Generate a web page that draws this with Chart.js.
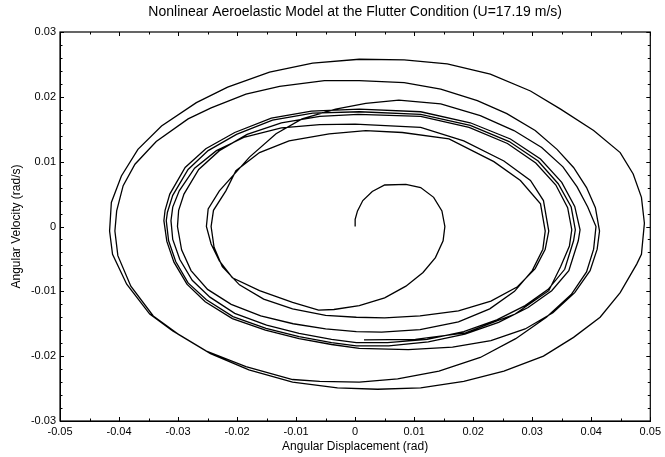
<!DOCTYPE html>
<html>
<head>
<meta charset="utf-8">
<script src="https://cdn.jsdelivr.net/npm/chart.js@4.4.1/dist/chart.umd.min.js"></script>
<style>
  html, body { margin: 0; padding: 0; background: #fff; }
  #wrap { width: 665px; height: 457px; }
</style>
</head>
<body>
<div id="wrap"><canvas id="c" width="665" height="457"></canvas></div>
<script>
// ---- data (angular displacement [rad], angular velocity [rad/s]) ----
const turn0 = [
  [0,0],[0,0.0011],[0.0004,0.0024],[0.0013,0.0040],[0.0029,0.0054],[0.0050,0.0064],[0.0086,0.0065],[0.0111,0.0060],[0.0133,0.0045],[0.0147,0.0024],[0.0152,0],
  [0.0149,-0.0022],[0.0136,-0.0048],[0.0115,-0.0071],[0.0086,-0.0092],[0.0050,-0.0110],[0.0007,-0.0122],[-0.0036,-0.0128],[-0.0062,-0.0129],
  [-0.0106,-0.0117],[-0.0162,-0.0099],[-0.0208,-0.0079],[-0.0230,-0.0053],[-0.0244,-0.0027],[-0.0252,0],[-0.0249,0.0027],
  [-0.0230,0.0055],[-0.0179,0.0107],[-0.0134,0.0143],[-0.0090,0.0166],[-0.0033,0.0181],[0.0018,0.0190],[0.0074,0.0195]
];
const turn1 = [
  [0.0145,0.0189],[0.0212,0.0171],[0.0269,0.0148],[0.0316,0.0122],[0.0352,0.0092],[0.0376,0.0061],[0.0394,0.0030],[0.0408,0.0000],
  [0.0404,-0.0035],[0.0392,-0.0070],[0.0366,-0.0105],[0.0324,-0.0140],[0.0272,-0.0173],[0.0212,-0.0202],[0.0142,-0.0223],[0.0072,-0.0235],[0.0007,-0.0240],
  [-0.0060,-0.0239],[-0.0106,-0.0236],[-0.0185,-0.0216],[-0.0252,-0.0192],[-0.0309,-0.0161],[-0.0348,-0.0135],[-0.0387,-0.0089],[-0.0411,-0.0043],[-0.0416,-0.0007],
  [-0.0413,0.0037],[-0.0396,0.0078],[-0.0368,0.0119],[-0.0328,0.0155],[-0.0269,0.0191],[-0.0216,0.0215],[-0.0145,0.0238],[-0.0072,0.0252],[0.0007,0.0258]
];
const turn2 = [
  [0.0083,0.0257],[0.0156,0.0251],[0.0229,0.0235],[0.0297,0.0209],[0.0348,0.0181],[0.0404,0.0148],[0.0449,0.0114],[0.0471,0.0081],[0.0485,0.0045],[0.0490,0.0005],
  [0.0485,-0.0043],[0.0477,-0.0058],[0.0449,-0.0102],[0.0415,-0.0140],[0.0370,-0.0171],[0.0319,-0.0200],[0.0252,-0.0223],[0.0184,-0.0239],[0.0111,-0.0249],[0.0038,-0.0251],
  [-0.0030,-0.0249],[-0.0106,-0.0240],[-0.0180,-0.0221],[-0.0245,-0.0196],[-0.0300,-0.0166],[-0.0342,-0.0138],[-0.0380,-0.0092],[-0.0402,-0.0045],[-0.0407,-0.0007],
  [-0.0404,0.0024],[-0.0393,0.0063],[-0.0373,0.0096],[-0.0337,0.0131],[-0.0283,0.0166],[-0.0244,0.0183],[-0.0185,0.0204],[-0.0128,0.0216],[-0.0052,0.0225],[0.0007,0.0225]
];
const turn3 = [
  [0.0083,0.0222],[0.0145,0.0212],[0.0207,0.0194],[0.0257,0.0174],[0.0305,0.0148],[0.0342,0.0119],[0.0370,0.0091],[0.0392,0.0060],[0.0407,0.0029],[0.0414,-0.0007],
  [0.0410,-0.0035],[0.0398,-0.0068],[0.0372,-0.0102],[0.0335,-0.0133],[0.0288,-0.0158],[0.0230,-0.0176],[0.0165,-0.0186],[0.0090,-0.0190],[0.0007,-0.0188],
  [-0.0040,-0.0182],[-0.0095,-0.0173],[-0.0152,-0.0160],[-0.0208,-0.0142],[-0.0254,-0.0116],[-0.0285,-0.0089],[-0.0307,-0.0055],[-0.0319,-0.0023],[-0.0324,0.0009],
  [-0.0322,0.0025],[-0.0314,0.0050],[-0.0288,0.0091],[-0.0253,0.0120],[-0.0204,0.0145],[-0.0142,0.0167],[-0.0074,0.0178],[0.0007,0.0181]
];
const turn4 = [
  [0.0111,0.0177],[0.0195,0.0160],[0.0263,0.0135],[0.0314,0.0104],[0.0350,0.0068],[0.0372,0.0031],[0.0381,-0.0005],
  [0.0378,-0.0022],[0.0362,-0.0068],[0.0333,-0.0099],[0.0293,-0.0125],[0.0243,-0.0148],[0.0186,-0.0166],[0.0124,-0.0178],[0.0057,-0.0184],[0.0002,-0.0184],
  [-0.0040,-0.0179],[-0.0095,-0.0170],[-0.0151,-0.0157],[-0.0207,-0.0139],[-0.0252,-0.0113],[-0.0283,-0.0087],[-0.0304,-0.0054],[-0.0316,-0.0022],[-0.0320,0.0009],
  [-0.0318,0.0022],[-0.0309,0.0048],[-0.0283,0.0088],[-0.0249,0.0117],[-0.0201,0.0142],[-0.0140,0.0164],[-0.0072,0.0175],[0.0007,0.0177]
];
const turn5 = [
  [0.0111,0.0173],[0.0195,0.0156],[0.0261,0.0131],[0.0310,0.0101],[0.0344,0.0066],[0.0366,0.0030],[0.0373,-0.0005],
  [0.0370,-0.0022],[0.0355,-0.0066],[0.0327,-0.0097],[0.0288,-0.0122],[0.0240,-0.0144],[0.0184,-0.0162],[0.0122,-0.0174],[0.0055,-0.0179],[0.0002,-0.0179],
  [-0.0040,-0.0174],[-0.0095,-0.0165],[-0.0150,-0.0152],[-0.0204,-0.0134],[-0.0246,-0.0109],[-0.0276,-0.0083],[-0.0297,-0.0051],[-0.0309,-0.0020],[-0.0312,0.0009],
  [-0.0309,0.0030],[-0.0298,0.0055],[-0.0272,0.0090],[-0.0235,0.0117],[-0.0187,0.0138],[-0.0125,0.0152],[-0.0060,0.0157],[0.0000,0.0158]
];
const turn6 = [
  [0.0111,0.0153],[0.0184,0.0132],[0.0252,0.0101],[0.0297,0.0071],[0.0319,0.0040],[0.0328,-0.0007],
  [0.0322,-0.0035],[0.0305,-0.0065],[0.0275,-0.0093],[0.0230,-0.0115],[0.0175,-0.0130],[0.0110,-0.0138],[0.0050,-0.0141],[0.0002,-0.0140],
  [-0.0050,-0.0137],[-0.0106,-0.0127],[-0.0155,-0.0112],[-0.0196,-0.0090],[-0.0225,-0.0062],[-0.0239,-0.0032],[-0.0244,0.0000],
  [-0.0240,0.0025],[-0.0219,0.0055],[-0.0202,0.0086],[-0.0162,0.0114],[-0.0112,0.0132],[-0.0044,0.0143],[0.0018,0.0148]
];
const turn7 = [
  [0.0080,0.0145],[0.0159,0.0135],[0.0235,0.0100],[0.0280,0.0071],[0.0314,0.0035],[0.0322,-0.0007],
  [0.0318,-0.0035],[0.0300,-0.0068],[0.0270,-0.0100],[0.0228,-0.0127],[0.0175,-0.0147],[0.0110,-0.0159],[0.0045,-0.0163],[0.0002,-0.0162],
  [-0.0050,-0.0158],[-0.0105,-0.0150],[-0.0160,-0.0138],[-0.0210,-0.0120],[-0.0250,-0.0097],[-0.0278,-0.0068],[-0.0294,-0.0036],[-0.0301,0.0000],
  [-0.0299,0.0025],[-0.0290,0.0050],[-0.0265,0.0088],[-0.0230,0.0117],[-0.0183,0.0142],[-0.0125,0.0160],[-0.0060,0.0170],[0.0005,0.0173]
];
const turn8 = [
  [0.0111,0.0170],[0.0193,0.0153],[0.0258,0.0128],[0.0306,0.0098],[0.0340,0.0064],[0.0360,0.0029],[0.0367,-0.0005],
  [0.0363,-0.0030],[0.0348,-0.0062],[0.0328,-0.0099],[0.0271,-0.0135],[0.0187,-0.0164],[0.0102,-0.0174],[0.0015,-0.0175]
];

// axis ranges and ticks
const xRange = [-0.05, 0.05];
const yRange = [-0.03, 0.03];
const xMinorTicks = [-0.045,-0.035,-0.025,-0.015,-0.005,0.005,0.015,0.025,0.035,0.045];
const yMinorTicks = [-0.028,-0.026,-0.024,-0.022,-0.018,-0.016,-0.014,-0.012,-0.008,-0.006,-0.004,-0.002,
                     0.002,0.004,0.006,0.008,0.012,0.014,0.016,0.018,0.022,0.024,0.026,0.028];

const titleText = 'Nonlinear Aeroelastic Model at the Flutter Condition (U=17.19 m/s)';
const xTitle = 'Angular Displacement (rad)';
const yTitle = 'Angular Velocity (rad/s)';

const trajectory = [].concat(turn0, turn1, turn2, turn3, turn4, turn5, turn6, turn7, turn8)
  .map(p => ({x: p[0], y: p[1]}));

const fmt = v => { const r = Math.round(v * 100) / 100; return r === 0 ? '0' : String(r); };

const frameTicks = {
  id: 'frameTicks',
  afterDraw(chart) {
    const {ctx, chartArea: a} = chart;
    const xs = chart.scales.x, ys = chart.scales.y;
    ctx.save();
    ctx.strokeStyle = '#000';
    ctx.lineWidth = 1;
    ctx.beginPath();
    const vx = (v, len) => {
      const px = Math.round(xs.getPixelForValue(v)) + 0.5;
      ctx.moveTo(px, a.bottom); ctx.lineTo(px, a.bottom - len);
      ctx.moveTo(px, a.top); ctx.lineTo(px, a.top + len);
    };
    const hy = (v, len) => {
      const py = Math.round(ys.getPixelForValue(v)) + 0.5;
      ctx.moveTo(a.left, py); ctx.lineTo(a.left + len, py);
      ctx.moveTo(a.right, py); ctx.lineTo(a.right - len, py);
    };
    xs.ticks.forEach(t => vx(t.value, 4));
    xMinorTicks.forEach(v => vx(v, 2.5));
    ys.ticks.forEach(t => hy(t.value, 4));
    yMinorTicks.forEach(v => hy(v, 2.5));
    ctx.stroke();
    ctx.lineWidth = 1.2;
    ctx.strokeRect(a.left, a.top, a.right - a.left, a.bottom - a.top);
    // chart title, centred over the plot area
    ctx.fillStyle = '#000';
    ctx.font = "14px 'Liberation Sans', Arial, sans-serif";
    ctx.textAlign = 'center';
    ctx.textBaseline = 'middle';
    ctx.fillText(titleText, (a.left + a.right) / 2, 12);
    ctx.restore();
  }
};

Chart.defaults.font.family = "'Liberation Sans', Arial, sans-serif";
Chart.defaults.color = '#000';

new Chart(document.getElementById('c'), {
  type: 'scatter',
  data: {
    datasets: [{
      data: trajectory,
      showLine: true,
      borderColor: '#000',
      borderWidth: 1.3,
      pointRadius: 0,
      tension: 0,
      fill: false
    }]
  },
  options: {
    responsive: false,
    animation: false,
    devicePixelRatio: 1,
    layout: { padding: { left: 0, right: 13, top: 32, bottom: 0 } },
    plugins: {
      legend: { display: false },
      tooltip: { enabled: false },
      title: { display: false }
    },
    scales: {
      x: {
        type: 'linear',
        min: xRange[0], max: xRange[1],
        grid: { display: false, drawTicks: false },
        border: { display: true, color: '#000', width: 1 },
        ticks: { stepSize: 0.01, autoSkip: false, maxRotation: 0, padding: 4, font: { size: 11 }, color: '#000', callback: fmt },
        title: { display: true, text: xTitle, color: '#000', font: { size: 12 }, padding: { top: 0, bottom: 3 } },
        afterFit(s) { s.height = 36; }
      },
      y: {
        type: 'linear',
        min: yRange[0], max: yRange[1],
        grid: { display: false, drawTicks: false },
        border: { display: true, color: '#000', width: 1 },
        ticks: { stepSize: 0.01, autoSkip: false, padding: 4, font: { size: 11 }, color: '#000', callback: fmt },
        title: { display: true, text: yTitle, color: '#000', font: { size: 12 }, padding: { top: 9, bottom: 0 } },
        afterFit(s) { s.width = 60; }
      }
    }
  },
  plugins: [frameTicks]
});
</script>
</body>
</html>
